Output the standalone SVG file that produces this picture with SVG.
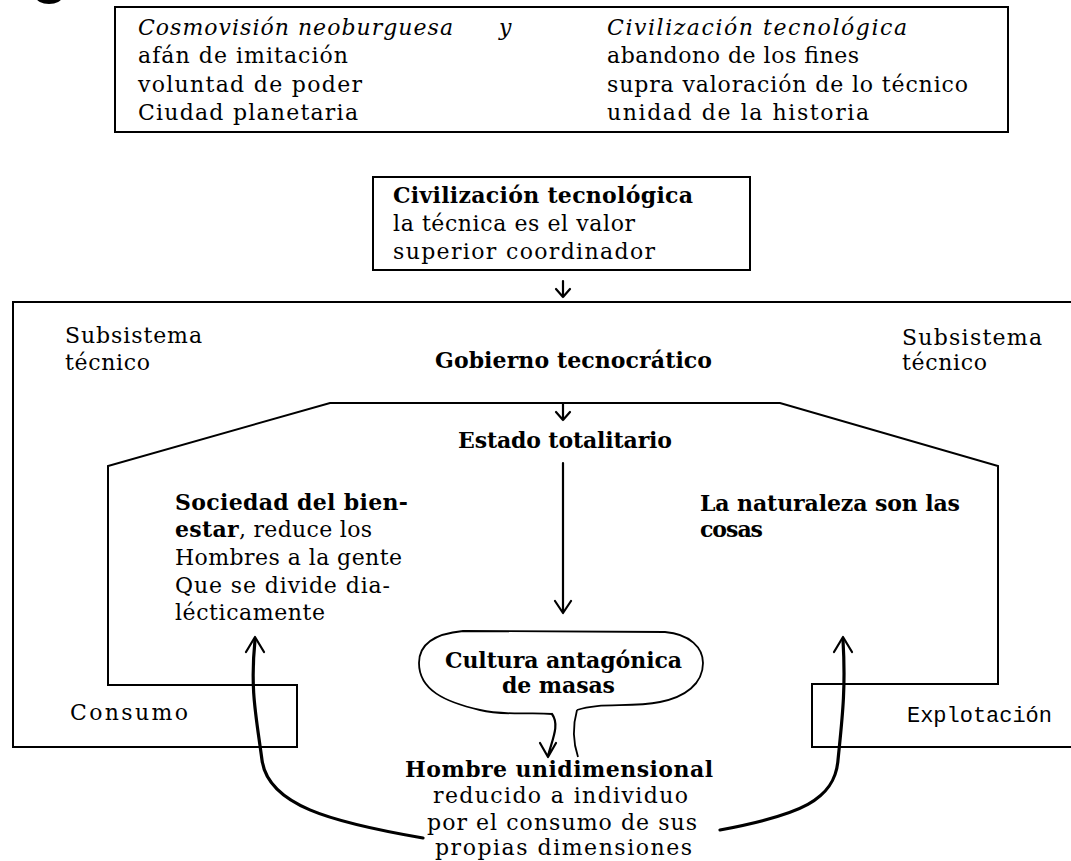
<svg xmlns="http://www.w3.org/2000/svg" width="1071" height="861" viewBox="0 0 1071 861">
<style>
.t{font-family:"DejaVu Serif","Liberation Serif",serif;font-size:22px;fill:#000}
.b{font-weight:bold}
.i{font-style:italic}
.m{font-family:"Liberation Mono","DejaVu Sans Mono",monospace;font-size:22px;fill:#000}
.box{fill:none;stroke:#000;stroke-width:2}
.thin{fill:none;stroke:#000;stroke-width:1.8}
.arr{fill:none;stroke:#000;stroke-width:2.2;stroke-linecap:round;stroke-linejoin:round}
.thick{fill:none;stroke:#000;stroke-width:3.2;stroke-linecap:round;stroke-linejoin:round}
</style>
<rect width="1071" height="861" fill="#fff"/>
<ellipse cx="49" cy="-3" rx="13" ry="7" fill="#000"/>

<g id="node-top">
<rect class="box" x="115" y="7" width="893" height="125"/>
<text class="t i" x="138" y="35" textLength="315" lengthAdjust="spacing">Cosmovisión neoburguesa</text>
<text class="t i" x="499" y="35">y</text>
<text class="t i" x="607" y="35" textLength="300" lengthAdjust="spacing">Civilización tecnológica</text>
<text class="t" x="138" y="63" textLength="210" lengthAdjust="spacing">afán de imitación</text>
<text class="t" x="138" y="92" textLength="224" lengthAdjust="spacing">voluntad de poder</text>
<text class="t" x="138" y="120" textLength="220" lengthAdjust="spacing">Ciudad planetaria</text>
<text class="t" x="607" y="63" textLength="252" lengthAdjust="spacing">abandono de los fines</text>
<text class="t" x="607" y="92" textLength="361" lengthAdjust="spacing">supra valoración de lo técnico</text>
<text class="t" x="607" y="120" textLength="262" lengthAdjust="spacing">unidad de la historia</text>
</g>

<g id="node-civilizacion">
<rect class="box" x="373" y="177" width="377" height="93"/>
<text class="t b" x="393" y="203" textLength="300" lengthAdjust="spacing">Civilización tecnológica</text>
<text class="t" x="393" y="231" textLength="242" lengthAdjust="spacing">la técnica es el valor</text>
<text class="t" x="393" y="259" textLength="262" lengthAdjust="spacing">superior coordinador</text>
</g>

<g id="node-sistema">
<path class="box" d="M297 685 L108 685 L108 466 L330 403 L780 403 L998 466 L998 684 L812 684 L812 747 L1076 747 L1076 302 L13 302 L13 747 L297 747 Z"/>
<text class="t" x="65" y="343" textLength="137" lengthAdjust="spacing">Subsistema</text>
<text class="t" x="65" y="370" textLength="85" lengthAdjust="spacing">técnico</text>
<text class="t" x="902" y="345" textLength="140" lengthAdjust="spacing">Subsistema</text>
<text class="t" x="902" y="370" textLength="85" lengthAdjust="spacing">técnico</text>
<text class="t" x="70" y="720" textLength="118" lengthAdjust="spacing">Consumo</text>
<text class="m" x="907" y="722" textLength="145" lengthAdjust="spacing">Explotación</text>
</g>

<g id="node-gobierno">
<text class="t b" x="435" y="368" textLength="277" lengthAdjust="spacing">Gobierno tecnocrático</text>
</g>

<g id="node-estado">
<text class="t b" x="458" y="448" textLength="214" lengthAdjust="spacing">Estado totalitario</text>
</g>

<g id="node-sociedad">
<text class="t" x="175" y="510" textLength="233" lengthAdjust="spacing"><tspan class="b">Sociedad del bien-</tspan></text>
<text class="t" x="175" y="537" textLength="197" lengthAdjust="spacing"><tspan class="b">estar</tspan>, reduce los</text>
<text class="t" x="175" y="565" textLength="227" lengthAdjust="spacing">Hombres a la gente</text>
<text class="t" x="175" y="593" textLength="215" lengthAdjust="spacing">Que se divide dia-</text>
<text class="t" x="175" y="620" textLength="150" lengthAdjust="spacing">lécticamente</text>
</g>

<g id="node-naturaleza">
<text class="t b" x="700" y="511" textLength="260" lengthAdjust="spacing">La naturaleza son las</text>
<text class="t b" x="700" y="537" textLength="63" lengthAdjust="spacing">cosas</text>
</g>

<g id="node-cultura">
<path class="thin" d="M552 714 C530 712 505 716 480 710 C445 702 419 690 419 663 C419 645 432 634 463 631 L665 632 C690 634 703 648 703 663 C703 684 685 697 660 702 C630 708 600 702 577 710"/>
<text class="t b" x="445" y="668" textLength="237" lengthAdjust="spacing">Cultura antagónica</text>
<text class="t b" x="502" y="693" textLength="113" lengthAdjust="spacing">de masas</text>
</g>

<g id="node-hombre">
<text class="t b" x="405" y="777" textLength="308" lengthAdjust="spacing">Hombre unidimensional</text>
<text class="t" x="433" y="803" textLength="255" lengthAdjust="spacing">reducido a individuo</text>
<text class="t" x="427" y="830" textLength="270" lengthAdjust="spacing">por el consumo de sus</text>
<text class="t" x="435" y="855" textLength="257" lengthAdjust="spacing">propias dimensiones</text>
</g>

<g id="connectors">
<path class="arr" d="M563 281 L563 297 M556 289 L563 297 L570 289"/>
<path class="arr" d="M563 404 L563 420 M556 412 L563 420 L570 412"/>
<path class="arr" d="M563 463 L563 612 M555 601 L563 613 L571 601"/>
<path class="arr" d="M552 714 C560 725 552 740 548 756 M540 743 L548 757 L556 743"/>
<path class="thin" d="M577 710 C572 728 574 745 578 757"/>
<path class="thick" d="M423 838 C330 822 268 805 262 760 C256 715 250 690 255 640"/>
<path class="arr" d="M246 652 L255 637 L264 652"/>
<path class="thick" d="M720 830 C800 815 835 800 838 760 C842 720 846 690 843 640"/>
<path class="arr" d="M834 652 L843 637 L852 652"/>
</g>
</svg>
